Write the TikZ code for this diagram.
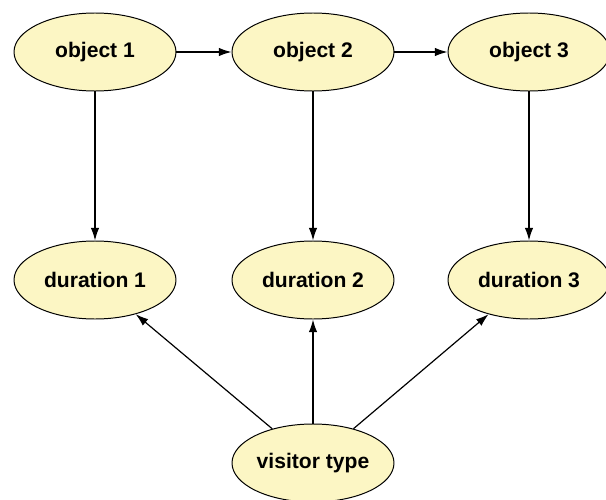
\documentclass[tikz,border=0pt]{standalone}
\usepackage{fontspec}
\setmainfont{Liberation Sans}
\usepackage{tikz}
\usetikzlibrary{positioning}
\usetikzlibrary{arrows.meta,shapes}
\definecolor{nodefill}{RGB}{252,246,196}

\begin{document}
\begin{tikzpicture}[x=0.025cm, y=-0.025cm,
  event/.style={ellipse, draw=black, line width=0.7pt, fill=nodefill,
    minimum width=162*0.025cm, minimum height=78*0.025cm, inner sep=0pt,
    font=\fontsize{15}{17}\selectfont\bfseries},
  link/.style={-{Latex[length=9pt,width=6pt]}, line width=0.85pt}]

  \useasboundingbox (0,0) rectangle (606,500);

  % objects and durations
  \foreach \i/\x in {1/95, 2/313, 3/529} {
    \node[event] (obj\i) at (\x,52) {object \i};
    \node[event] (dur\i) at (\x,280) {duration \i};
  }

  \node[event] (visitor) at (313,463) {visitor type};

  % lines
  \draw[link] (obj1) -- (obj2);
  \draw[link] (obj2) -- (obj3);
  \foreach \i in {1,2,3}
    \draw[link] (obj\i) -- (dur\i);
  \foreach \i in {1,2,3}
    \draw[link] (visitor) -- (dur\i);

\end{tikzpicture}
\end{document}
